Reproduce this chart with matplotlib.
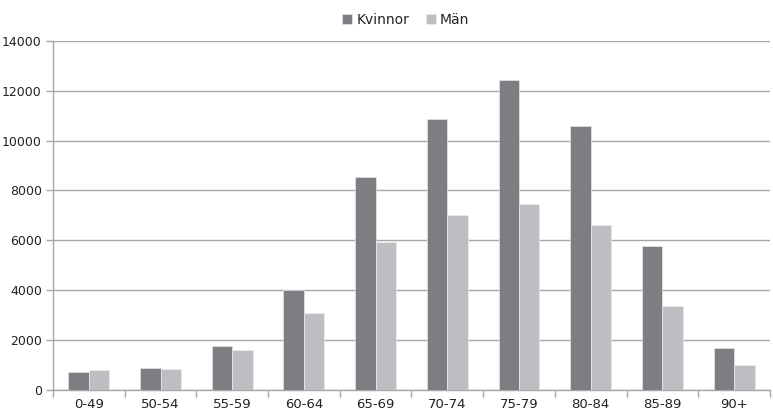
import matplotlib
matplotlib.use("Agg")
import matplotlib.pyplot as plt
import numpy as np
from matplotlib.ticker import FixedLocator, NullFormatter

age_groups = ["0-49", "50-54", "55-59", "60-64", "65-69", "70-74",
              "75-79", "80-84", "85-89", "90+"]
kvinnor = [700, 850, 1730, 3980, 8540, 10880, 12430, 10590, 5760, 1650]
man = [780, 820, 1600, 3080, 5910, 6990, 7440, 6600, 3370, 1000]
series_names = ["Kvinnor", "Män"]
y_ticks = [0, 2000, 4000, 6000, 8000, 10000, 12000, 14000]

plt.rcParams["font.family"] = ["DejaVu Sans"]

fig = plt.figure(figsize=(7.73, 4.12), dpi=100)
ax = fig.add_axes([0.0686, 0.0546, 0.9274, 0.8459])

x = np.arange(len(age_groups))
w = 1 / 3.5
c_k = "#7d7e82"
c_m = "#bdbec2"
ax.bar(x - w / 2, kvinnor, width=w, color=c_k, edgecolor="#e6e6e8",
       linewidth=0.5, label=series_names[0], zorder=3)
ax.bar(x + w / 2, man, width=w, color=c_m, edgecolor="#ececee",
       linewidth=0.5, label=series_names[1], zorder=3)

ax.set_xlim(-0.5, len(age_groups) - 0.5)
ax.set_ylim(0, 14000)
ax.set_yticks(y_ticks)
ax.set_yticklabels([str(v) for v in y_ticks])
ax.set_xticks(x)
ax.set_xticklabels(age_groups)
ax.xaxis.set_minor_locator(FixedLocator(np.arange(-0.5, len(age_groups), 1.0)))
ax.xaxis.set_minor_formatter(NullFormatter())

grid_c = "#a6a6a6"
ax.yaxis.grid(True, color=grid_c, linewidth=1.0, zorder=0)
ax.set_axisbelow(True)
for s in ["top", "right"]:
    ax.spines[s].set_visible(False)
for s in ["left", "bottom"]:
    ax.spines[s].set_color(grid_c)
    ax.spines[s].set_linewidth(1.0)

ax.tick_params(axis="x", which="major", length=0, pad=6, labelsize=9.5,
               labelcolor="#222222")
ax.tick_params(axis="x", which="minor", length=5, color=grid_c, width=1)
ax.tick_params(axis="y", length=5, color=grid_c, width=1, pad=3,
               labelsize=9, labelcolor="#222222")

fig.legend(loc="upper center", bbox_to_anchor=(0.525, 1.0), ncol=2,
           frameon=False, fontsize=10, handlelength=0.7, handleheight=0.7,
           handletextpad=0.3, columnspacing=1.2, labelcolor="#222222")

fig.savefig("out.png", dpi=100)
